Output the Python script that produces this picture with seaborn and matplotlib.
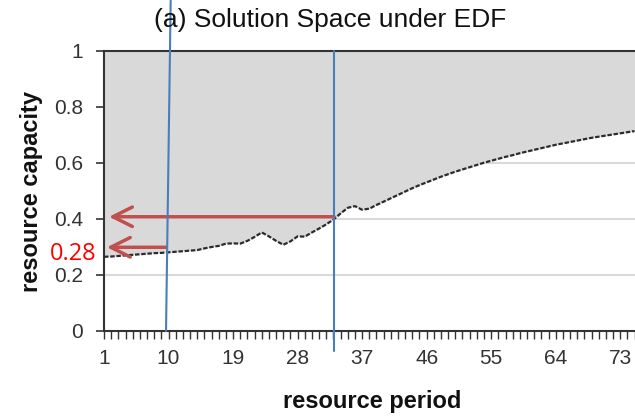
import numpy as np
import pandas as pd
import seaborn as sns
import matplotlib.pyplot as plt

# Data
periods = list(range(1, 76))
capacity = [0.265, 0.266, 0.268, 0.270, 0.272, 0.274, 0.276, 0.278, 0.279, 0.281,
            0.283, 0.285, 0.287, 0.289, 0.295, 0.300, 0.304, 0.312, 0.313, 0.312,
            0.322, 0.336, 0.352, 0.338, 0.322, 0.308, 0.320, 0.338, 0.337, 0.352,
            0.366, 0.381, 0.398, 0.420, 0.440, 0.446, 0.433, 0.437, 0.450, 0.462,
            0.474, 0.486, 0.498, 0.510, 0.521, 0.531, 0.541, 0.551, 0.560, 0.569,
            0.577, 0.585, 0.593, 0.601, 0.608, 0.615, 0.622, 0.628, 0.635, 0.641,
            0.647, 0.653, 0.659, 0.665, 0.670, 0.675, 0.680, 0.685, 0.690, 0.694,
            0.698, 0.702, 0.706, 0.710, 0.714]
x_tick_labels = ['1', '10', '19', '28', '37', '46', '55', '64', '73']
y_tick_labels = ['0', '0.2', '0.4', '0.6', '0.8', '1']

# Hand-drawn annotation overlays
blue_a_x = [9.65, 10.3]
blue_a_y = [0.0, 1.18]
blue_b_x = [33.1, 33.1]
blue_b_y = [-0.07, 1.0]
arrow_starts = [33.1, 9.65]
arrow_ends = [1.7, 1.4]
arrow_levels = [0.408, 0.299]
marked_value = '0.28'

sns.set_theme(style='white')
plt.rcParams['font.family'] = ['Liberation Sans', 'DejaVu Sans']

fig = plt.figure(figsize=(6.35, 4.16), dpi=100)
ax = fig.add_axes([104 / 635, 85 / 416, 531 / 635, 280 / 416])

data = pd.DataFrame({'period': periods, 'capacity': capacity})

# gridlines under the fill
for g in [0.2, 0.4, 0.6, 0.8]:
    ax.axhline(g, color='#d9d9d9', lw=1.5, zorder=0)

ax.fill_between(data['period'], data['capacity'], 1, color='#d9d9d9', lw=0, zorder=1)
sns.lineplot(data=data, x='period', y='capacity', ax=ax, color='#2b2b2b', lw=1.6,
             linestyle=(0, (2, 0.8)), zorder=3)

ax.set_xlim(1, 75.06)
ax.set_ylim(0, 1)

# blue marker lines
ax.plot(blue_a_x, blue_a_y, color='#4a7ebb', lw=1.5, clip_on=False, zorder=5)
ax.plot(blue_b_x, blue_b_y, color='#4a7ebb', lw=1.5, clip_on=False, zorder=5)

# red arrows
for x0, x1, lvl in zip(arrow_starts, arrow_ends, arrow_levels):
    ax.annotate('', xy=(x1, lvl), xytext=(x0, lvl),
                arrowprops=dict(arrowstyle='->,head_length=0.7,head_width=0.35',
                                color='#c0504d', lw=2.5, mutation_scale=20,
                                shrinkA=0, shrinkB=0), zorder=4)

ax.text(0.02, 0.275, marked_value, color='#ff0000', fontsize=17, family='Open Sans',
        ha='right', va='center', clip_on=False)

# axes styling
ax.set_xticks([int(t) for t in x_tick_labels])
ax.set_xticklabels(x_tick_labels)
ax.set_xticks(periods, minor=True)
ax.set_yticks([float(t) for t in y_tick_labels])
ax.set_yticklabels(y_tick_labels)

ax.tick_params(axis='x', which='both', bottom=True, direction='out', length=6, width=1,
               color='#333333', pad=7, labelsize=15, labelcolor='#333333')
ax.tick_params(axis='y', which='major', left=True, direction='out', length=6, width=1.2,
               color='#333333', pad=9, labelsize=15, labelcolor='#333333')

for side in ['left', 'bottom', 'top']:
    ax.spines[side].set_color('#333333')
    ax.spines[side].set_linewidth(1.5)
ax.spines['right'].set_visible(False)

ax.set_xlabel('resource period', fontsize=17, fontweight='bold', color='#111111')
ax.set_ylabel('resource capacity', fontsize=17, fontweight='bold', color='#111111')
ax.xaxis.set_label_coords(0.505, -0.21)
ax.yaxis.set_label_coords(-0.115, 0.5)

fig.text(330 / 635, 1 - 20 / 416, '(a) Solution Space under EDF', fontsize=19,
         ha='center', va='center', color='#111111')

plt.savefig('out.png', dpi=100)
